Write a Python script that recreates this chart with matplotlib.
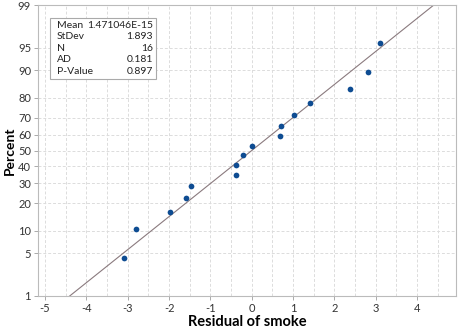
import matplotlib
matplotlib.use("Agg")
import matplotlib.pyplot as plt
import numpy as np
from statistics import NormalDist

# Residuals (sorted)
residuals = [-3.08, -2.80, -1.98, -1.59, -1.48, -0.39, -0.39, -0.22,
             0.01, 0.68, 0.71, 1.01, 1.41, 2.38, 2.80, 3.10]
mean = 1.471046e-15
stdev = 1.893
stat_names = ["Mean", "StDev", "N", "AD", "P-Value"]
stat_values = ["1.471046E-15", "1.893", "16", "0.181", "0.897"]
pct_ticks = [1, 5, 10, 20, 30, 40, 50, 60, 70, 80, 90, 95, 99]
x_ticks = [-5, -4, -3, -2, -1, 0, 1, 2, 3, 4]

nd = NormalDist()
n = len(residuals)
# Minitab median ranks
probs = [(i - 0.3) / (n + 0.4) for i in range(1, n + 1)]
z_pts = [nd.inv_cdf(p) for p in probs]

plt.rcParams['font.family'] = ['Lato', 'DejaVu Sans']

fig = plt.figure(figsize=(4.58, 3.30), dpi=100)
ax = fig.add_axes([38/458, 34/330, 418/458, 291/330])

zlo, zhi = nd.inv_cdf(0.01), nd.inv_cdf(0.99)
ax.set_ylim(zlo, zhi)
ax.set_xlim(-5.17, 4.94)

# grid
for xv in np.arange(-5, 5, 0.5):
    ax.axvline(xv, color='#dcdcdc', lw=0.7, ls=(0, (3, 2)), zorder=0)
for p in pct_ticks:
    ax.axhline(nd.inv_cdf(p / 100), color='#dcdcdc', lw=0.7, ls=(0, (3, 2)), zorder=0)

# fitted line
line_z = np.array([zlo, zhi])
ax.plot(mean + stdev * line_z, line_z, color='#8a7a7e', lw=0.8, zorder=2)

ax.scatter(residuals, z_pts, s=17, color='#0e4c92', zorder=3, linewidths=0)

ax.set_yticks([nd.inv_cdf(p / 100) for p in pct_ticks])
ax.set_yticklabels([str(p) for p in pct_ticks])
ax.set_xticks(x_ticks)
ax.set_xticklabels([str(v) for v in x_ticks])
ax.tick_params(labelsize=8, colors='#333333', length=3, width=0.7, color='#aaaaaa', pad=2)
for s in ax.spines.values():
    s.set_color('#bbbbbb')
    s.set_linewidth(0.8)

ax.set_xlabel("Residual of smoke", fontsize=10.5, fontweight='bold', labelpad=1)
ax.set_ylabel("Percent", fontsize=10, fontweight='bold')
ax.yaxis.set_label_coords(-22/418, 0.5)

# stats box
box = plt.Rectangle((50/458, 1 - 79/330), 106/458, 61/330, transform=fig.transFigure,
                    facecolor='white', edgecolor='#aaaaaa', lw=0.8, zorder=5)
fig.patches.append(box)
for i, (nm, val) in enumerate(zip(stat_names, stat_values)):
    y = 1 - (25 + i * 11.6) / 330
    fig.text(57/458, y, nm, fontsize=7.5, va='center', ha='left', color='#222222', zorder=6)
    fig.text(153/458, y, val, fontsize=7.5, va='center', ha='right', color='#222222', zorder=6)

fig.savefig("out.png", dpi=100)
